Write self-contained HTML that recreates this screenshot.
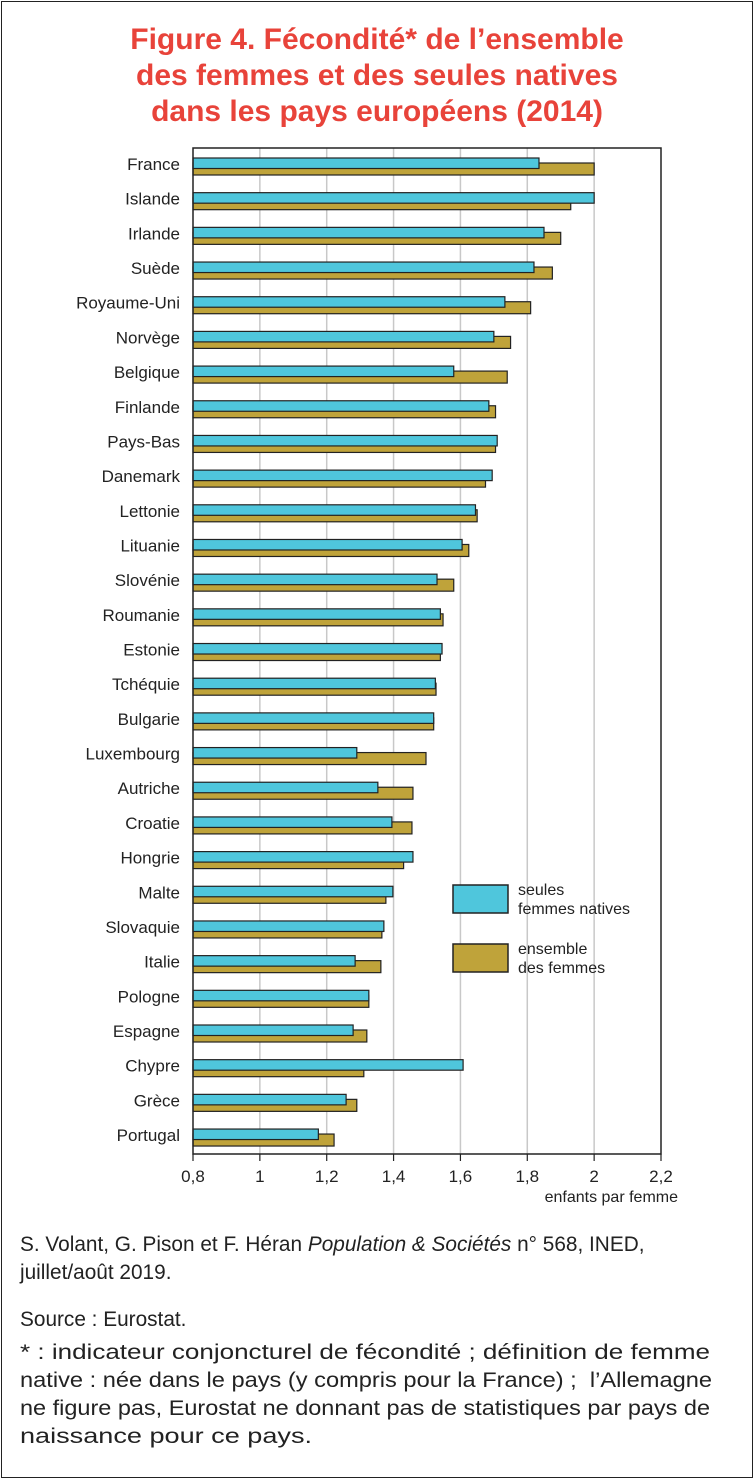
<!DOCTYPE html>
<html><head><meta charset="utf-8"><style>
html,body{margin:0;padding:0;background:#fff}
body{width:754px;height:1479px;position:relative;overflow:hidden;font-family:"Liberation Sans","DejaVu Sans",sans-serif}
#frame{position:absolute;left:1px;top:1px;width:750px;height:1475px;border:1px solid #222}
#title{position:absolute;left:0;top:22px;width:754px;text-align:center;color:#e8433a;font-weight:bold;font-size:30px;line-height:36px}
.txt{position:absolute;left:20px;color:#222;font-size:20.8px;line-height:28px;white-space:nowrap}
</style></head><body>
<div id="frame"></div>
<div id="title">Figure 4. Fécondité* de l’ensemble<br>des femmes et des seules natives<br>dans les pays européens (2014)</div>
<svg id="chart" width="754" height="1479" style="position:absolute;left:0;top:0"></svg>
<div class="txt" style="top:1231px">S. Volant, G. Pison et F. Héran <i>Population &amp; Sociétés</i> n° 568, INED,<br>juillet/août 2019.</div>
<div class="txt" style="top:1306px">Source : Eurostat.</div>
<svg style="position:absolute;left:0;top:1330px" width="754" height="130">
<g font-family="Liberation Sans, sans-serif" font-size="21" fill="#222">
<text x="20" y="29" textLength="690" lengthAdjust="spacingAndGlyphs">* : indicateur conjoncturel de fécondité ; définition de femme</text>
<text x="20" y="57" textLength="692" lengthAdjust="spacingAndGlyphs" xml:space="preserve">native : née dans le pays (y compris pour la France) ;  l’Allemagne</text>
<text x="20" y="85" textLength="690" lengthAdjust="spacingAndGlyphs">ne figure pas, Eurostat ne donnant pas de statistiques par pays de</text>
<text x="20" y="113" textLength="292" lengthAdjust="spacingAndGlyphs">naissance pour ce pays.</text>
</g></svg>
<script>
const countries=["France","Islande","Irlande","Suède","Royaume-Uni","Norvège","Belgique","Finlande","Pays-Bas","Danemark","Lettonie","Lituanie","Slovénie","Roumanie","Estonie","Tchéquie","Bulgarie","Luxembourg","Autriche","Croatie","Hongrie","Malte","Slovaquie","Italie","Pologne","Espagne","Chypre","Grèce","Portugal"];
const natives=[1.835,2.0,1.85,1.82,1.733,1.70,1.58,1.685,1.71,1.695,1.645,1.605,1.53,1.54,1.545,1.525,1.52,1.29,1.353,1.395,1.458,1.398,1.371,1.285,1.326,1.279,1.608,1.258,1.175];
const ensemble=[2.0,1.93,1.90,1.875,1.81,1.75,1.74,1.705,1.705,1.675,1.65,1.625,1.58,1.548,1.54,1.527,1.52,1.497,1.458,1.455,1.43,1.377,1.365,1.362,1.326,1.32,1.311,1.29,1.222];
const ticks=[0.8,1,1.2,1.4,1.6,1.8,2,2.2];
const tickLabels=["0,8","1","1,2","1,4","1,6","1,8","2","2,2"];
const svg=document.getElementById('chart');const NS="http://www.w3.org/2000/svg";
const X0=193,X1=661,plotTop=148,plotBottom=1154;
const x=v=>X0+(v-0.8)/(2.2-0.8)*(X1-X0);
const rowY=i=>164+i*34.68;
function mk(t,a,p){const e=document.createElementNS(NS,t);for(const k in a)e.setAttribute(k,a[k]);(p||svg).appendChild(e);return e;}
ticks.forEach((t,i)=>{
 if(i>0&&i<ticks.length-1){const g=mk('line',{x1:x(t),x2:x(t),y1:plotTop,y2:plotBottom,stroke:'#c8c8c8','stroke-width':1.5});
 
 }
 const tk=mk('line',{x1:x(t),x2:x(t),y1:plotBottom,y2:plotBottom+7,stroke:'#222','stroke-width':1.2});
 
 
 const tl=mk('text',{x:x(t),y:plotBottom+28,'text-anchor':'middle','font-size':17,fill:'#222','font-family':'Liberation Sans, sans-serif'});tl.textContent=tickLabels[i];
 
 
});
countries.forEach((c,i)=>{
 const y=rowY(i);
 const g=mk('rect',{x:X0,y:y-1,width:x(ensemble[i])-X0,height:12,fill:'#bfa33a',stroke:'#222','stroke-width':1.2});
 
 
 const n=mk('rect',{x:X0,y:y-6,width:x(natives[i])-X0,height:10.5,fill:'#4fc6dc',stroke:'#222','stroke-width':1.2});
 
 
 const l=mk('text',{x:180,y:y+6,'text-anchor':'end','font-size':17,fill:'#222','font-family':'Liberation Sans, sans-serif'});l.textContent=c;
 
 
});
const ax=mk('path',{d:`M${X0} ${plotTop}H${X1}V${plotBottom}H${X0}Z`,fill:'none',stroke:'#222','stroke-width':1.5});


const at=mk('text',{x:678,y:1202,'text-anchor':'end','font-size':16,fill:'#222','font-family':'Liberation Sans, sans-serif'});at.textContent='enfants par femme';


const lg=[['#4fc6dc','seules','femmes natives',885],['#bfa33a','ensemble','des femmes',944]];
lg.forEach(e=>{
 const r=mk('rect',{x:453,y:e[3],width:55,height:28,fill:e[0],stroke:'#222','stroke-width':1.5});
 
 
 const t=mk('text',{x:518,y:e[3]+10,'font-size':16,fill:'#222','font-family':'Liberation Sans, sans-serif'});
 
 
 const a=mk('tspan',{x:518,dy:0},t);a.textContent=e[1];
 const b=mk('tspan',{x:518,dy:19},t);b.textContent=e[2];
});
</script>
</body></html>
